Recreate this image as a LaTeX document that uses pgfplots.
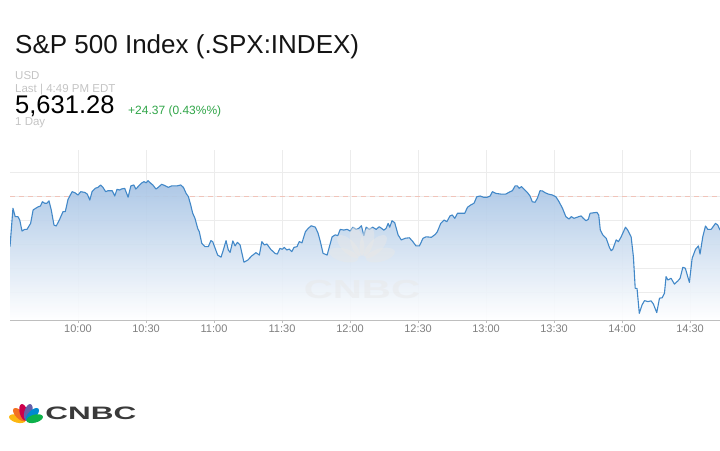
\documentclass[border=0pt]{standalone}
\usepackage{fontspec}
\setmainfont{Liberation Sans}
\usepackage{pgfplots}
\usepackage{pgfplotstable}
\pgfplotsset{compat=1.18}
\definecolor{linecol}{RGB}{66,136,200}
\definecolor{filltop}{RGB}{166,195,228}
\definecolor{gridcol}{RGB}{236,236,236}
\definecolor{ticklab}{RGB}{128,128,128}
\definecolor{lightlab}{RGB}{196,196,196}
\definecolor{upgreen}{RGB}{48,165,72}
\definecolor{prevclose}{RGB}{240,196,186}
\definecolor{axiscol}{RGB}{190,190,190}
\definecolor{titlecol}{RGB}{20,20,20}
\definecolor{logotext}{RGB}{58,58,58}
\definecolor{wmark}{RGB}{232,232,232}
\definecolor{pkyellow}{RGB}{252,183,17}
\definecolor{pkorange}{RGB}{243,112,33}
\definecolor{pkred}{RGB}{204,0,76}
\definecolor{pkpurple}{RGB}{100,96,170}
\definecolor{pkblue}{RGB}{0,137,208}
\definecolor{pkgreen}{RGB}{13,177,75}

\pgfplotstableread{
t v
0 5588.9
1.3 5604.9
2.3 5601.4
3.5 5601.4
4.3 5600.0
5.3 5595.4
6.5 5596.1
7.5 5596.1
9.1 5598.6
10.2 5604.2
12.4 5605.5
13.4 5605.8
14.3 5607.6
15.3 5607.0
16.3 5607.0
17.2 5608.0
18.2 5604.2
19.4 5597.9
20.4 5597.5
21.9 5600.3
23.4 5603.5
24.4 5603.5
25.6 5608.6
27.4 5611.8
28.6 5611.4
30.0 5610.4
31.2 5611.8
33.0 5611.5
34.1 5610.8
35.2 5608.3
36.2 5611.8
37.6 5613.2
38.8 5613.6
40.0 5614.6
41.0 5613.6
42.2 5611.8
43.2 5612.2
45.1 5612.2
46.2 5610.0
47.2 5612.8
48.4 5612.5
49.1 5612.9
50.6 5613.2
52.1 5609.5
53.3 5614.2
54.6 5614.6
55.5 5612.9
56.8 5614.2
57.9 5615.3
59.1 5616.0
60.1 5615.5
60.9 5616.4
62.1 5615.3
63.0 5614.6
64.4 5612.9
65.4 5613.6
66.9 5614.9
68.4 5614.3
69.8 5613.6
71.3 5614.2
73.6 5614.2
75.3 5614.6
76.5 5613.6
77.7 5611.1
78.7 5609.7
79.7 5606.3
80.6 5602.8
81.6 5600.7
82.8 5596.5
83.5 5595.1
84.6 5590.3
86.0 5588.9
87.5 5588.9
88.6 5591.4
89.4 5591.0
90.5 5588.2
91.6 5585.4
93.1 5584.5
94.1 5587.5
95.3 5591.4
96.3 5587.5
97.1 5586.5
98.3 5591.3
99.3 5589.2
100.3 5590.7
101.5 5589.6
103.2 5582.4
104.9 5583.3
106.6 5585.0
108.5 5586.4
110.0 5585.4
111.1 5591.0
112.2 5589.6
113.3 5590.0
115.0 5587.8
116.9 5586.1
117.9 5585.8
119.1 5588.2
120.1 5587.8
121.0 5588.6
122.1 5587.5
123.2 5587.9
124.3 5586.8
125.3 5588.6
126.6 5588.9
127.6 5591.0
128.8 5590.5
130.3 5595.1
131.5 5596.5
132.9 5597.6
134.7 5597.0
135.9 5594.5
136.9 5591.0
138.1 5586.1
139.9 5585.4
140.9 5588.9
142.1 5593.0
143.5 5593.8
144.6 5593.5
145.7 5596.1
147.2 5595.8
148.7 5596.1
150.1 5595.4
151.2 5597.0
152.7 5596.1
153.8 5596.5
155.0 5597.6
156.1 5593.5
157.1 5597.0
158.5 5596.1
160.0 5597.0
161.5 5596.1
162.9 5597.2
164.9 5595.8
165.9 5596.5
166.8 5598.6
167.5 5597.0
168.5 5599.7
169.7 5598.9
171.2 5593.8
172.6 5591.7
174.4 5592.4
176.2 5592.6
177.7 5591.0
179.1 5589.2
180.6 5589.2
182.2 5592.4
183.5 5593.0
185.9 5592.8
187.6 5594.0
188.5 5595.1
190.0 5598.6
191.5 5600.0
192.7 5599.3
194.1 5601.7
195.1 5602.1
196.2 5600.7
197.4 5602.8
198.9 5602.8
200.6 5602.8
201.8 5605.3
203.3 5606.3
204.7 5607.0
205.9 5609.7
207.4 5610.0
208.8 5609.5
210.6 5609.5
211.8 5610.0
212.8 5611.8
214.3 5611.1
216.5 5610.8
218.7 5610.8
220.6 5611.8
221.6 5612.2
222.8 5614.2
223.8 5614.2
224.6 5613.2
225.6 5613.9
226.8 5612.8
228.2 5611.5
229.4 5610.0
230.4 5607.6
231.6 5607.4
232.6 5609.0
233.8 5612.2
234.9 5612.1
236.0 5611.4
237.5 5610.8
239.3 5610.4
240.8 5609.7
242.2 5607.6
243.7 5604.9
245.2 5601.4
246.6 5600.4
247.6 5601.4
248.8 5600.7
250.9 5601.4
251.9 5601.7
252.9 5600.7
254.1 5599.7
255.1 5600.3
255.9 5602.8
257.4 5603.0
258.9 5603.2
259.7 5602.1
260.4 5595.8
261.5 5593.8
263.0 5592.4
264.4 5588.6
265.2 5587.2
265.9 5587.8
267.4 5591.7
268.4 5591.0
269.6 5593.0
271.5 5597.0
272.5 5595.8
274.0 5593.0
275.0 5584.7
275.8 5571.5
276.6 5571.5
277.6 5561.1
278.8 5564.6
279.9 5566.4
281.4 5566.0
282.8 5566.3
283.8 5565.0
285.3 5561.4
286.5 5567.4
287.7 5567.6
288.7 5569.5
289.4 5576.4
290.2 5575.0
291.6 5575.7
293.1 5573.3
294.6 5574.6
295.6 5575.7
296.8 5580.3
297.9 5579.9
299.7 5574.0
300.9 5584.0
302.4 5587.8
303.7 5589.2
304.4 5585.8
305.6 5593.0
306.8 5597.5
307.8 5596.1
309.3 5596.1
311.2 5598.6
312.2 5597.9
313.2 5595.8
}\spx

\begin{document}
\begin{tikzpicture}[x=1pt,y=1pt]
\path[use as bounding box] (0pt,0pt) rectangle (720pt,450pt);

% header texts
\node[anchor=base west, inner sep=0, font=\fontsize{26}{30}\selectfont, text=titlecol] at (15pt,396.7pt) {S\&P 500 Index (.SPX:INDEX)};
\node[anchor=base west, inner sep=0, font=\fontsize{11.5}{13}\selectfont, text=lightlab] at (15pt,370pt) {USD};
\node[anchor=base west, inner sep=0, font=\fontsize{11.5}{13}\selectfont, text=lightlab] at (15pt,357.3pt) {Last | 4:49 PM EDT};
\node[anchor=base west, inner sep=0, font=\fontsize{25.5}{30}\selectfont, text=black] at (15pt,336pt) {5,631.28};
\node[anchor=base west, inner sep=0, font=\fontsize{12}{14}\selectfont, text=upgreen] at (128pt,335.7pt) {+24.37 (0.43\%\%)};
\node[anchor=base west, inner sep=0, font=\fontsize{11.5}{13}\selectfont, text=lightlab] at (15pt,324.5pt) {1 Day};

\begin{axis}[
  at={(10pt,130pt)}, anchor=south west,
  width=710pt, height=170pt, scale only axis,
  xmin=0, xmax=313.2, ymin=5558.33, ymax=5629.17,
  axis line style={draw=none},
  xtick={30,60,90,120,150,180,210,240,270,300},
  xticklabels={10:00,10:30,11:00,11:30,12:00,12:30,13:00,13:30,14:00,14:30},
  ytick={5570,5580,5590,5600,5610,5620}, yticklabels={},
  xtick pos=bottom, tick align=outside, major tick length=3pt,
  x tick style={color=axiscol, line width=0.8pt},
  y tick style={draw=none},
  grid=major, major grid style={color=gridcol, line width=0.8pt},
  xticklabel style={font=\fontsize{11}{12}\selectfont, text=ticklab, inner sep=1.5pt},
  clip mode=individual,
]
\addplot[prevclose, line width=0.8pt, dash pattern=on 5pt off 4pt] coordinates {(0,5609.7) (313.2,5609.7)};
\addplot[draw=none, top color=filltop, bottom color=white, fill opacity=0.92] table {\spx} |- (axis cs:0,5558.33) -- cycle;
\addplot[linecol, line width=1.1pt, line join=round] table {\spx};
\end{axis}

% bottom axis line
\draw[axiscol, line width=0.8pt] (10pt,130pt) -- (720pt,130pt);

% watermark
\begin{scope}[opacity=0.5]
\foreach \a in {165,135,105,75,45,15} {
  \fill[wmark, shift={(362pt,190pt)}, rotate=\a] (19pt,0pt) ellipse (15pt and 6.5pt);
}
\node[font=\bfseries\fontsize{26}{30}\selectfont, text=wmark, xscale=1.55] at (362pt,160pt) {CNBC};
\end{scope}

% CNBC logo
\foreach \a/\c in {165/pkyellow,135/pkorange,105/pkred,75/pkpurple,45/pkblue,15/pkgreen} {
  \fill[\c, shift={(26pt,29pt)}, rotate=\a] (9pt,0pt) ellipse (8.5pt and 4pt);
}
\node[anchor=base west, inner sep=0, font=\bfseries\fontsize{18}{20}\selectfont, text=logotext, xscale=1.75] at (45pt,31pt) {CNBC};
\end{tikzpicture}
\end{document}
